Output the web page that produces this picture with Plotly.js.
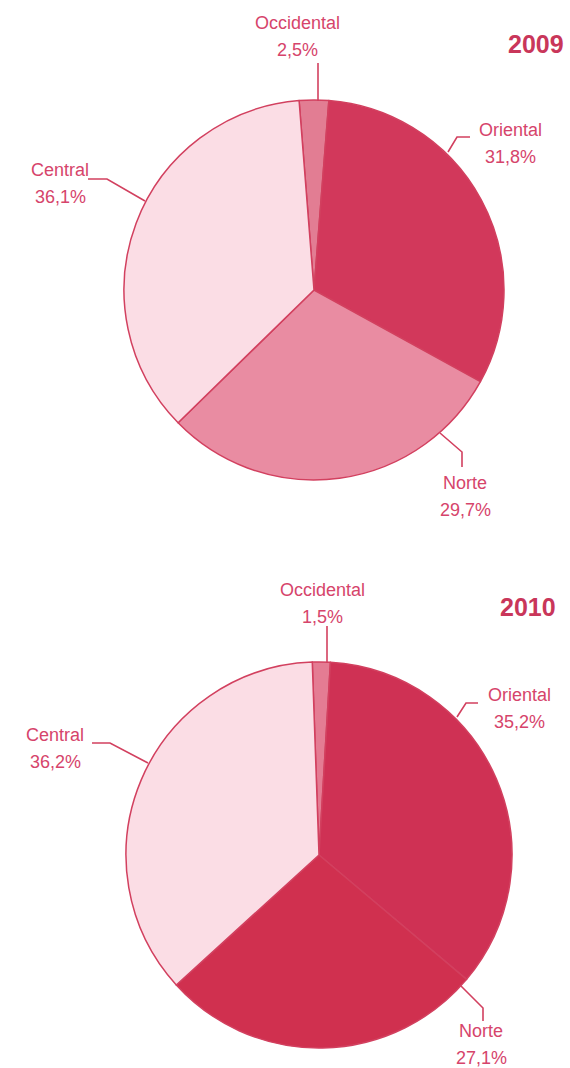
<!DOCTYPE html>
<html>
<head>
<meta charset="utf-8">
<script src="https://cdn.plot.ly/plotly-3.0.1.min.js"></script>
<style>html,body{margin:0;padding:0;background:#fff;}#chart{width:570px;height:1068px;}</style>
</head>
<body>
<div id="chart"></div>
<script>
const regions = ["Occidental", "Oriental", "Norte", "Central"];
const values2009 = [2.5, 31.8, 29.7, 36.1];
const values2010 = [1.5, 35.2, 27.1, 36.2];
const labels2009 = ["2,5%", "31,8%", "29,7%", "36,1%"];
const labels2010 = ["1,5%", "35,2%", "27,1%", "36,2%"];
const years = ["2009", "2010"];

const W = 570, H = 1068;
const px = x => x / W;
const py = y => 1 - y / H;
const textColor = "#d6446b";
const lineColor = "#d2405f";
const FONT = "Liberation Sans, Arial, sans-serif";

const colors2009 = ["#e27d93", "#d2385b", "#e98ca2", "#fbdde5"];
const colors2010 = ["#e47c93", "#cf3154", "#d0304f", "#fbdde5"];

const traces = [
  {
    type: "pie", values: values2009, labels: regions, sort: false, direction: "clockwise",
    rotation: -4.5, textinfo: "none", hoverinfo: "skip", showlegend: false,
    marker: {colors: colors2009, line: {color: lineColor, width: 1.5}},
    domain: {x: [px(124), px(504)], y: [py(480), py(100)]}
  },
  {
    type: "pie", values: values2010, labels: regions, sort: false, direction: "clockwise",
    rotation: -2, textinfo: "none", hoverinfo: "skip", showlegend: false,
    marker: {colors: colors2010, line: {color: lineColor, width: 1.5}},
    domain: {x: [px(126), px(512)], y: [py(1048), py(662)]}
  }
];

// label positions (pixel centre of first line) for [Occidental, Oriental, Norte, Central]
const labelPos = [
  [[297, 23], [510, 130], [465, 483], [60, 170]],
  [[322, 590], [519, 695], [481, 1031], [55, 735]]
];
const annotations = [];
[labels2009, labels2010].forEach((pct, k) => {
  regions.forEach((r, i) => {
    const [x, y] = labelPos[k][i];
    [r, pct[i]].forEach((t, j) => {
      annotations.push({
        x: px(x), y: py(y + j * 27), xref: "paper", yref: "paper", xanchor: "center", yanchor: "middle",
        text: t, showarrow: false,
        font: {family: FONT, size: 18, color: textColor}
      });
    });
  });
});
annotations.push({x: px(536), y: py(44), xref: "paper", yref: "paper", xanchor: "center", yanchor: "middle",
  text: "<b>" + years[0] + "</b>", showarrow: false,
  font: {family: FONT, size: 25, color: "#c9365a"}});
annotations.push({x: px(528), y: py(607), xref: "paper", yref: "paper", xanchor: "center", yanchor: "middle",
  text: "<b>" + years[1] + "</b>", showarrow: false,
  font: {family: FONT, size: 25, color: "#c9365a"}});

const leaders = [
  [[318, 63], [318, 101]],
  [[470, 137], [457, 137], [448, 152]],
  [[88, 179], [107, 179], [145, 201]],
  [[440, 433], [462, 452], [462, 467]],
  [[327, 626], [327, 663]],
  [[478, 703], [466, 703], [457, 717]],
  [[92, 743], [110, 743], [148, 763]],
  [[460, 985], [483, 1008], [483, 1021]]
];
const shapes = leaders.map(pts => ({
  type: "path", xref: "paper", yref: "paper",
  path: pts.map((p, i) => (i ? "L" : "M") + px(p[0]) + "," + py(p[1])).join(" "),
  line: {color: lineColor, width: 1.6}
}));

Plotly.newPlot("chart", traces, {
  width: W, height: H, margin: {l: 0, r: 0, t: 0, b: 0},
  paper_bgcolor: "#ffffff", plot_bgcolor: "#ffffff",
  annotations: annotations, shapes: shapes, showlegend: false
}, {displayModeBar: false, staticPlot: true});
</script>
</body>
</html>
